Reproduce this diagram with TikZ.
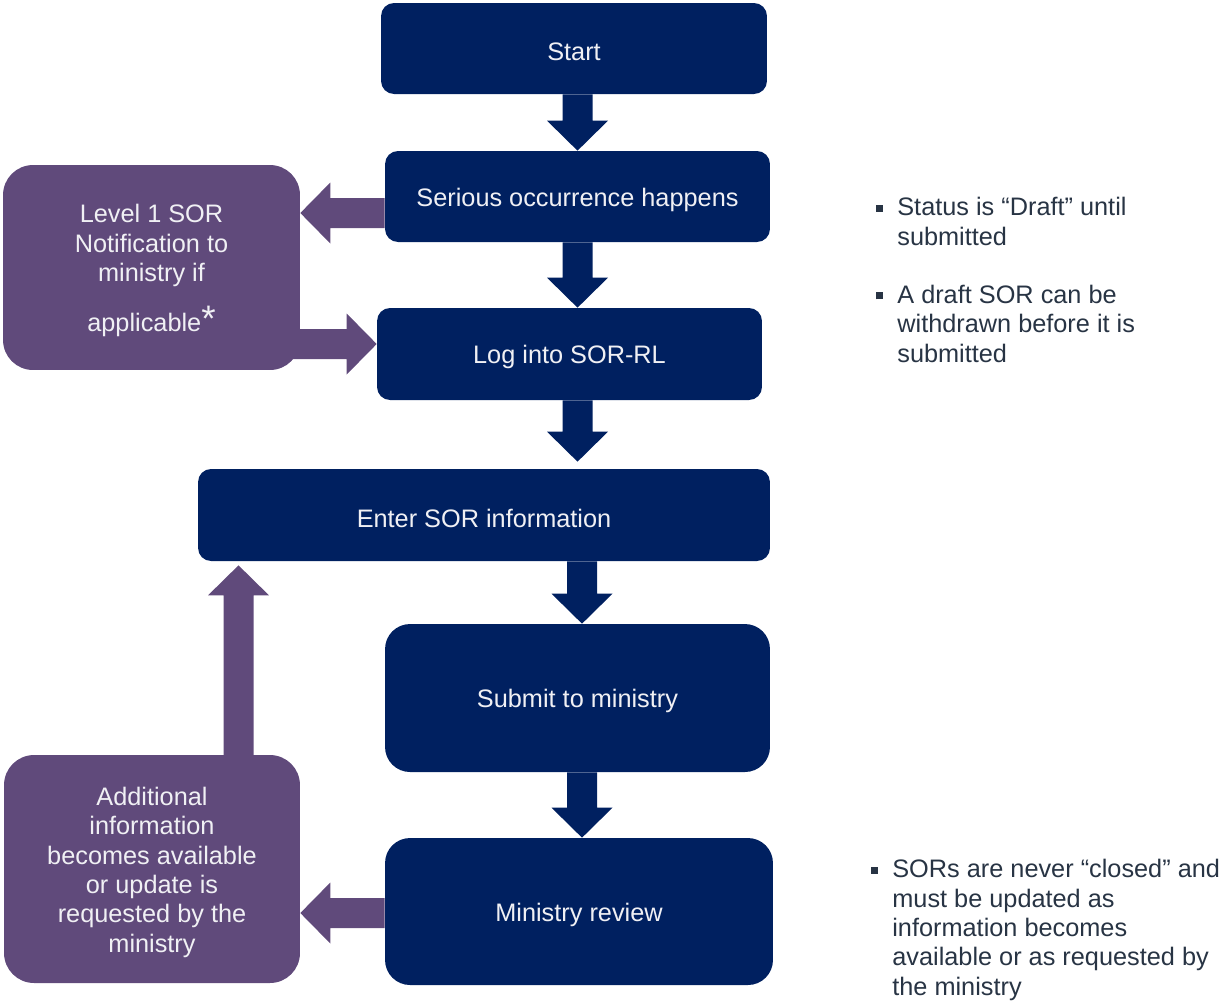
\documentclass[tikz,border=0pt]{standalone}
\usepackage{fontspec}
\setmainfont{Liberation Sans}
\usetikzlibrary{calc}
\definecolor{navy}{RGB}{0,32,96}
\definecolor{plum}{RGB}{96,74,123}
\definecolor{boxtext}{RGB}{240,240,244}
\definecolor{notetext}{RGB}{40,52,68}
\newcommand{\sqbullet}{\makebox[0pt][r]{\rule[2.3pt]{4pt}{4pt}\hspace{7.9pt}}}
\newcommand{\topstrut}{\rule{0pt}{14.3pt}}
\begin{document}
\begin{tikzpicture}[x=0.02cm,y=-0.02cm,
  every node/.style={font=\fontsize{14.4}{16.7}\selectfont, inner sep=0pt},
  flowbox/.style={fill=navy, text=boxtext, rounded corners=0.26cm, align=center,
     execute at begin node={\rule{0pt}{14pt}}},
  sidebox/.style={fill=plum, text=boxtext, rounded corners=0.6cm, align=center},
  note/.style={text=notetext, align=left, anchor=base west},
  blockarrow/.style={to path={
     ($(\tikztostart)!0.3cm!90:(\tikztotarget)$)
     -- ($($(\tikztotarget)!0.6cm!(\tikztostart)$)!0.3cm!90:(\tikztotarget)$)
     -- ($($(\tikztotarget)!0.6cm!(\tikztostart)$)!0.61cm!90:(\tikztotarget)$)
     -- (\tikztotarget)
     -- ($($(\tikztotarget)!0.6cm!(\tikztostart)$)!0.61cm!-90:(\tikztotarget)$)
     -- ($($(\tikztotarget)!0.6cm!(\tikztostart)$)!0.3cm!-90:(\tikztotarget)$)
     -- ($(\tikztostart)!0.3cm!-90:(\tikztotarget)$)
     -- cycle}}
]
\useasboundingbox (0,0) rectangle (1222,1002);

% flow boxes
\node[flowbox, minimum width=7.72cm, minimum height=1.82cm] (start) at (574,48.5) {Start};
\node[flowbox, minimum width=7.70cm, minimum height=1.82cm] (serious) at (577.5,196.5) {Serious occurrence happens};
\node[flowbox, minimum width=7.70cm, minimum height=1.84cm] (log) at (569.5,354) {Log into SOR-RL};
\node[flowbox, minimum width=11.44cm, minimum height=1.84cm] (enter) at (484,515) {Enter SOR information};
\node[flowbox, rounded corners=0.5cm, minimum width=7.70cm, minimum height=2.96cm] (submit) at (577.5,698) {Submit to ministry};
\node[flowbox, rounded corners=0.5cm, minimum width=7.76cm, minimum height=2.94cm] (ministry) at (579,911.5) {Ministry review};

% side boxes
\node[sidebox, minimum width=5.94cm, minimum height=4.10cm] (level) at (151.5,267.5)
  {\topstrut Level 1 SOR\\Notification to\\ministry if\\[11.9pt]applicable\smash{\fontsize{21}{21}\selectfont *}};
\node[sidebox, minimum width=5.92cm, minimum height=4.56cm] (addl) at (152,869)
  {\topstrut Additional\\information\\becomes available\\or update is\\requested by the\\ministry};

% notes
\node[note] (n1) at (897,245) {\sqbullet Status is “Draft” until\\submitted};
\node[note] (n2) at (897,362) {\sqbullet A draft SOR can be\\withdrawn before it is\\submitted};
\node[note] (n3) at (892,995) {\sqbullet SORs are never “closed” and\\must be updated as\\information becomes\\available or as requested by\\the ministry};

% navy flow arrows
\fill[navy] (serious.north |- start.south) to[blockarrow] (serious.north);
\fill[navy] (serious.south) to[blockarrow] (serious.south |- log.north);
\fill[navy] (serious.south |- log.south) to[blockarrow] ($(serious.south |- enter.north)+(0,-7)$);
\fill[navy] (enter.south -| 582,0) to[blockarrow] (submit.north -| 582,0);
\fill[navy] (submit.south -| 582,0) to[blockarrow] (ministry.north -| 582,0);

% purple arrows
\fill[plum] (serious.west |- 0,213) to[blockarrow] (level.east |- 0,213);
\fill[plum] ($(level.east |- 0,344)+(-10,0)$) to[blockarrow] (log.west |- 0,344);
\fill[plum] ($(addl.north -| 238.5,0)+(0,10)$) to[blockarrow] ($(enter.south -| 238.5,0)+(0,4)$);
\fill[plum] (ministry.west |- 0,913) to[blockarrow] (addl.east |- 0,913);
\end{tikzpicture}
\end{document}
